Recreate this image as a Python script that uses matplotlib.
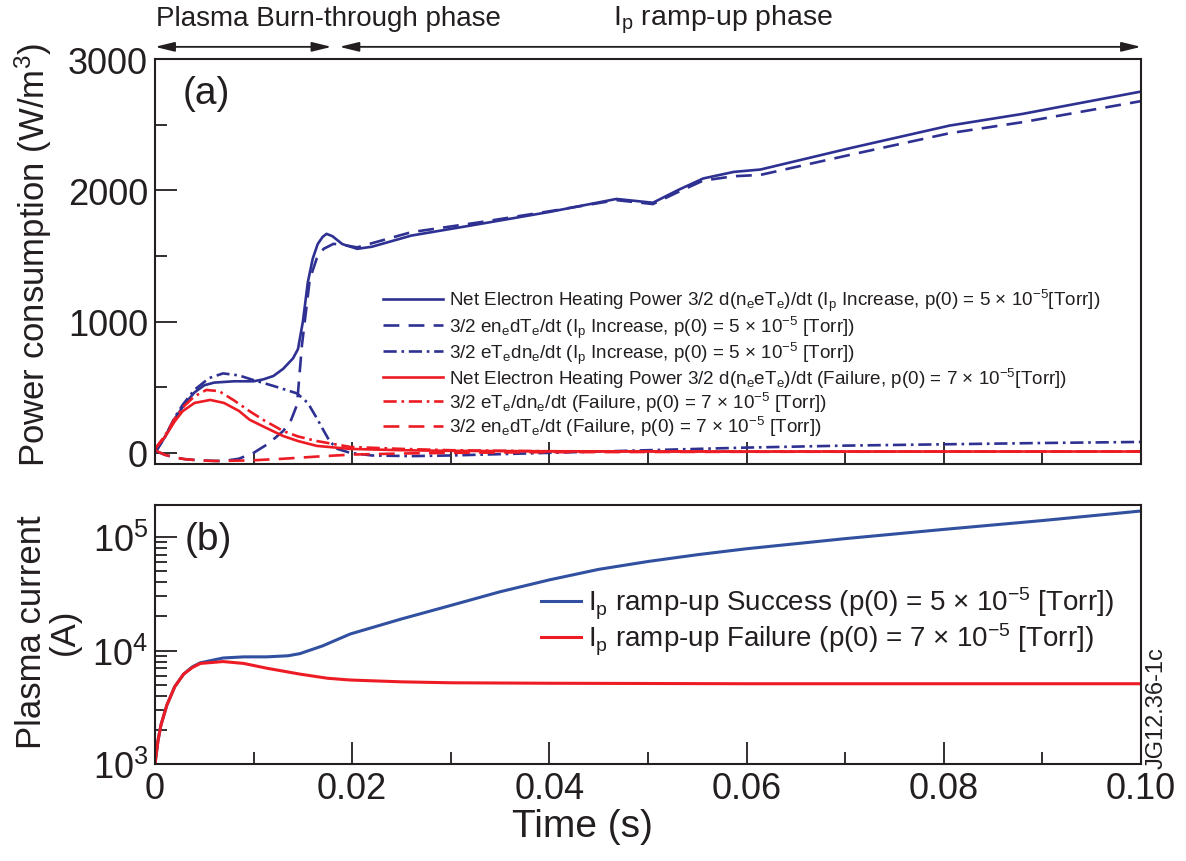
import matplotlib
matplotlib.use('Agg')
import matplotlib.pyplot as plt
from matplotlib.ticker import MultipleLocator, LogLocator, NullFormatter, LogFormatterMathtext

plt.rcParams['font.family'] = 'Liberation Sans'
plt.rcParams['mathtext.fontset'] = 'custom'
plt.rcParams['mathtext.rm'] = 'Liberation Sans'
plt.rcParams['mathtext.it'] = 'Liberation Sans:italic'
plt.rcParams['mathtext.bf'] = 'Liberation Sans:bold'
plt.rcParams['mathtext.default'] = 'regular'

# ---- panel (a): power consumption (W/m^3) ----
t_net_ok = [0, 0.001, 0.002, 0.003, 0.004, 0.005, 0.006, 0.008, 0.010, 0.011, 0.012, 0.013, 0.014,
            0.0145, 0.015, 0.0155, 0.016, 0.0165, 0.017, 0.0174, 0.018, 0.019, 0.0205, 0.022, 0.026,
            0.033, 0.040, 0.0468, 0.0505, 0.053, 0.0556, 0.0587, 0.0614, 0.0705, 0.0806, 0.088, 0.100]
p_net_ok = [0, 120, 260, 370, 460, 515, 535, 545, 545, 560, 585, 640, 720,
            790, 1000, 1300, 1480, 1590, 1645, 1668, 1650, 1590, 1554, 1570, 1655,
            1744, 1835, 1934, 1905, 2000, 2090, 2140, 2158, 2321, 2493, 2582, 2752]

t_dT_ok = [0, 0.001, 0.002, 0.003, 0.0046, 0.0069, 0.0085, 0.010, 0.0115, 0.013, 0.0138, 0.0144,
           0.0149, 0.0157, 0.0164, 0.0171, 0.0181, 0.019, 0.0205, 0.026, 0.033, 0.040, 0.0468,
           0.0505, 0.053, 0.0556, 0.0587, 0.0614, 0.0705, 0.0806, 0.088, 0.100]
p_dT_ok = [15, -15, -35, -48, -58, -63, -45, 0, 70, 166, 250, 365,
           818, 1323, 1480, 1554, 1592, 1585, 1565, 1681, 1757, 1840, 1925,
           1895, 1985, 2074, 2107, 2117, 2270, 2435, 2519, 2679]

t_dn_ok = [0, 0.001, 0.002, 0.0028, 0.004, 0.0055, 0.0069, 0.0085, 0.010, 0.012, 0.0144, 0.0155,
           0.0164, 0.0171, 0.0177, 0.0185, 0.0198, 0.022, 0.026, 0.030, 0.035, 0.040, 0.050,
           0.060, 0.070, 0.080, 0.090, 0.100]
p_dn_ok = [0, 120, 270, 365, 480, 570, 605, 590, 554, 510, 453, 380,
           265, 170, 90, 30, 0, -20, -25, -20, -10, 0, 20,
           40, 55, 65, 75, 83]

t_net_fail = [0, 0.001, 0.002, 0.0028, 0.004, 0.0056, 0.007, 0.0085, 0.0096, 0.011, 0.013, 0.0145,
              0.0164, 0.0198, 0.025, 0.030, 0.040, 0.060, 0.080, 0.100]
p_net_fail = [30, 120, 240, 317, 380, 403, 380, 320, 252, 200, 128, 90,
              53, 30, 20, 15, 12, 10, 10, 10]

t_dn_fail = [0, 0.001, 0.002, 0.003, 0.004, 0.0052, 0.0065, 0.008, 0.0096, 0.011, 0.013, 0.0145,
             0.0164, 0.0198, 0.025, 0.030, 0.040, 0.060, 0.100]
p_dn_fail = [30, 130, 260, 360, 430, 479, 470, 400, 317, 250, 166, 125,
             90, 45, 30, 20, 12, 10, 10]

t_dT_fail = [0, 0.001, 0.002, 0.003, 0.0046, 0.006, 0.0096, 0.013, 0.0165, 0.020, 0.025, 0.030,
             0.040, 0.060, 0.100]
p_dT_fail = [20, -15, -35, -48, -58, -62, -58, -45, -28, -13, -5, 0,
             5, 8, 10]

labels_a = [
    r'Net Electron Heating Power 3/2 d(n$_e$eT$_e$)/dt (I$_p$ Increase, p(0) = 5 × 10$^{-5}$[Torr])',
    r'3/2 en$_e$dT$_e$/dt (I$_p$ Increase, p(0) = 5 × 10$^{-5}$ [Torr])',
    r'3/2 eT$_e$dn$_e$/dt (I$_p$ Increase, p(0) = 5 × 10$^{-5}$ [Torr])',
    r'Net Electron Heating Power 3/2 d(n$_e$eT$_e$)/dt (Failure, p(0) = 7 × 10$^{-5}$[Torr])',
    r'3/2 eT$_e$/dn$_e$/dt (Failure, p(0) = 7 × 10$^{-5}$ [Torr])',
    r'3/2 en$_e$dT$_e$/dt (Failure, p(0) = 7 × 10$^{-5}$ [Torr])',
]

# ---- panel (b): plasma current (A) ----
t_ip_ok = [0, 0.0003, 0.0006, 0.0012, 0.002, 0.0029, 0.0038, 0.0046, 0.0069, 0.009, 0.0113,
           0.0135, 0.0147, 0.017, 0.0198, 0.025, 0.030, 0.035, 0.040, 0.045, 0.050, 0.055,
           0.060, 0.070, 0.080, 0.090, 0.100]
ip_ok = [1000, 1600, 2200, 3300, 4800, 6200, 7200, 7800, 8600, 8800, 8800,
         9000, 9400, 11000, 14000, 19000, 25000, 33000, 42000, 52000, 61000, 70000,
         79000, 97000, 117000, 140000, 170000]

t_ip_fail = [0, 0.0003, 0.0006, 0.0012, 0.002, 0.0029, 0.0038, 0.0046, 0.0069, 0.009, 0.0113,
             0.0147, 0.0175, 0.0198, 0.025, 0.030, 0.040, 0.060, 0.080, 0.100]
ip_fail = [1000, 1600, 2200, 3300, 4800, 6200, 7100, 7700, 8000, 7700, 7000,
           6200, 5700, 5500, 5300, 5200, 5150, 5100, 5100, 5100]

labels_b = [r'I$_p$ ramp-up Success (p(0) = 5 × 10$^{-5}$ [Torr])',
            r'I$_p$ ramp-up Failure (p(0) = 7 × 10$^{-5}$ [Torr])']

ink = '#231f20'
navy = '#2e3192'
blue = '#3150a0'
red = '#ed1c24'

W, H = 1186, 862
fig = plt.figure(figsize=(W / 100, H / 100), dpi=100)
ax1 = fig.add_axes([155 / W, 1 - 465 / H, 986 / W, 405 / H])
ax2 = fig.add_axes([155 / W, 1 - 765 / H, 986 / W, 259 / H], sharex=ax1)

lw = 1.9
ax1.plot(t_net_ok, p_net_ok, color=navy, lw=lw, label=labels_a[0])
ax1.plot(t_dT_ok, p_dT_ok, color=navy, lw=lw, dashes=(6, 3.5), label=labels_a[1])
ax1.plot(t_dn_ok, p_dn_ok, color=navy, lw=lw, dashes=(5, 1.8, 1, 1.8), label=labels_a[2])
ax1.plot(t_net_fail, p_net_fail, color=red, lw=lw, label=labels_a[3])
ax1.plot(t_dn_fail, p_dn_fail, color=red, lw=lw, dashes=(5, 1.8, 1, 1.8), label=labels_a[4])
ax1.plot(t_dT_fail, p_dT_fail, color=red, lw=lw, dashes=(6, 3.5), label=labels_a[5])

ax2.plot(t_ip_ok, ip_ok, color=blue, lw=2.2, label=labels_b[0])
ax2.plot(t_ip_fail, ip_fail, color=red, lw=2.2, label=labels_b[1])

ax1.set_xlim(0, 0.1)
ax1.set_ylim(-85, 3000)
ax2.set_yscale('log')
ax2.set_ylim(1000, 1.92e5)

ax1.xaxis.set_major_locator(MultipleLocator(0.02))
ax1.xaxis.set_minor_locator(MultipleLocator(0.01))
ax1.yaxis.set_major_locator(MultipleLocator(1000))
ax1.yaxis.set_minor_locator(MultipleLocator(500))
ax2.yaxis.set_major_locator(LogLocator(base=10, numticks=10))
ax2.yaxis.set_minor_locator(LogLocator(base=10, subs=range(2, 10), numticks=10))
ax2.yaxis.set_minor_formatter(NullFormatter())
ax2.yaxis.set_major_formatter(LogFormatterMathtext())
ax2.xaxis.set_major_formatter(plt.FuncFormatter(lambda v, p: '0' if abs(v) < 1e-9 else f'{v:.2f}'))

for ax in (ax1, ax2):
    for s in ax.spines.values():
        s.set_color(ink)
        s.set_linewidth(1.5)
    ax.tick_params(which='both', direction='in', colors=ink, width=1.3, labelsize=26, pad=5)
    ax.tick_params(which='major', length=16)
    ax.tick_params(which='minor', length=8.5)
ax1.tick_params(labelbottom=False)

# phase arrows above panel (a)
xt = ax1.get_xaxis_transform()
arrow = dict(arrowstyle='<|-|>,head_length=0.9,head_width=0.22', color=ink, lw=1.3,
             shrinkA=0, shrinkB=0, mutation_scale=13)
ax1.annotate('', xy=(0, 1.03), xytext=(0.0179, 1.03), xycoords=xt, textcoords=xt,
             arrowprops=arrow, annotation_clip=False)
ax1.annotate('', xy=(0.0187, 1.03), xytext=(0.1, 1.03), xycoords=xt, textcoords=xt,
             arrowprops=arrow, annotation_clip=False)

ax1.text(0.0001, 1.1, 'Plasma Burn-through phase', transform=xt, ha='left', va='center',
         color=ink, fontsize=20)
ax1.text(0.0465, 1.1, r'I$_p$ ramp-up phase', transform=xt, ha='left', va='center',
         color=ink, fontsize=20.5)

ax1.text(0.0028, 0.915, '(a)', transform=xt, fontsize=28, color=ink, va='center')
ax2.text(0.003, 0.87, '(b)', transform=ax2.get_xaxis_transform(), fontsize=28, color=ink, va='center')

ax1.legend(loc='upper left', bbox_to_anchor=(383 / W, 1 - 288 / H), bbox_transform=fig.transFigure,
           frameon=False, fontsize=13.6, handlelength=3.15, handletextpad=0.36, labelspacing=0.0,
           borderpad=0, borderaxespad=0, labelcolor=ink)
ax2.legend(loc='upper left', bbox_to_anchor=(541 / W, 1 - 586 / H), bbox_transform=fig.transFigure,
           frameon=False, fontsize=20, handlelength=1.45, handletextpad=0.26, labelspacing=0.0,
           borderpad=0, borderaxespad=0, labelcolor=ink)

fig.text(33 / W, 1 - 255 / H, 'Power consumption (W/m$^3$)', rotation=90, ha='center', va='center',
         fontsize=25, color=ink)
fig.text(48 / W, 1 - 632 / H, 'Plasma current\n(A)', rotation=90, ha='center', va='center',
         fontsize=25, color=ink, multialignment='center', linespacing=1.0)
fig.text(582 / W, 1 - 827 / H, 'Time (s)', ha='center', va='center', fontsize=28, color=ink)
fig.text(1157 / W, 1 - 708 / H, 'JG12.36-1c', rotation=90, ha='center', va='center', fontsize=17,
         color=ink)

fig.savefig('out.png', dpi=100)
